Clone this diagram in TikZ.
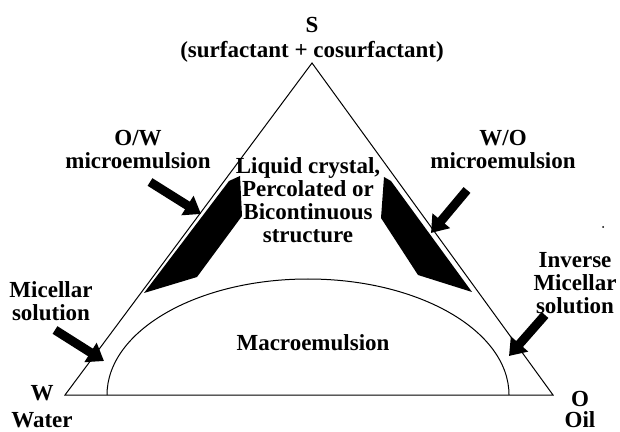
\documentclass[tikz,border=0pt]{standalone}
\usepackage{fontspec}
\setmainfont{Liberation Serif}
\usetikzlibrary{arrows.meta}

\tikzset{
  lbl/.style={font=\fontsize{11.5}{11.5}\selectfont\bfseries, align=center, inner sep=0pt},
  bigarrow/.style={line width=4.5pt, -{Triangle[length=8pt,width=11pt]}},
  phase/.style={line width=0.5pt}
}

\begin{document}
\begin{tikzpicture}[x=0.5pt,y=-0.5pt]
  \useasboundingbox (0,0) rectangle (620,432);

  % corners of the phase triangle
  \coordinate (S) at (312,63);
  \coordinate (W) at (65,395);
  \coordinate (O) at (553,395);
  \draw[phase] (W) -- (S) -- (O) -- cycle;

  % macroemulsion dome
  \draw[phase] (107,395) arc[start angle=180, end angle=0, x radius=100.5pt, y radius=58pt];

  % microemulsion regions (black)
  \fill (240,176) -- (242,216) -- (197,277) -- (144,293) -- (229,181) -- cycle;
  \fill (384,177) -- (381,218) -- (418,275) -- (472,292) -- (391,181) -- cycle;

  % corner labels
  \node[lbl] (sLabel) at (312,25) {S};
  \node[lbl] (sName)  at (312,52) {(surfactant + cosurfactant)};
  \node[lbl] (wLabel) at (42,393) {W};
  \node[lbl] (wName)  at (42,420) {Water};
  \node[lbl] (oLabel) at (580,399) {O};
  \node[lbl] (oName)  at (580,420) {Oil};

  % region labels
  \node[lbl] (ow)    at (138,150) {O/W\\microemulsion};
  \node[lbl] (wo)    at (503,150) {W/O\\microemulsion};
  \node[lbl] (lc)    at (308,200) {Liquid crystal,\\Percolated or\\Bicontinuous\\structure};
  \node[lbl] (mic)   at (51,301)  {Micellar\\solution};
  \node[lbl] (inv)   at (575,283) {Inverse\\Micellar\\solution};
  \node[lbl] (macro) at (313,343) {Macroemulsion};

  % arrow ends
  \coordinate (owTail)  at (150,182);
  \coordinate (owTip)   at (201,214);
  \coordinate (woTail)  at (467,190);
  \coordinate (woTip)   at (431,233);
  \coordinate (micTail) at (55,330);
  \coordinate (micTip)  at (104,361);
  \coordinate (invTail) at (545,315);
  \coordinate (invTip)  at (509,356);

  \draw[bigarrow] (owTail) -- (owTip);
  \draw[bigarrow] (woTail) -- (woTip);
  \draw[bigarrow] (micTail) -- (micTip);
  \draw[bigarrow] (invTail) -- (invTip);

  % small speck
  \fill (603,227) circle (1);
\end{tikzpicture}
\end{document}
